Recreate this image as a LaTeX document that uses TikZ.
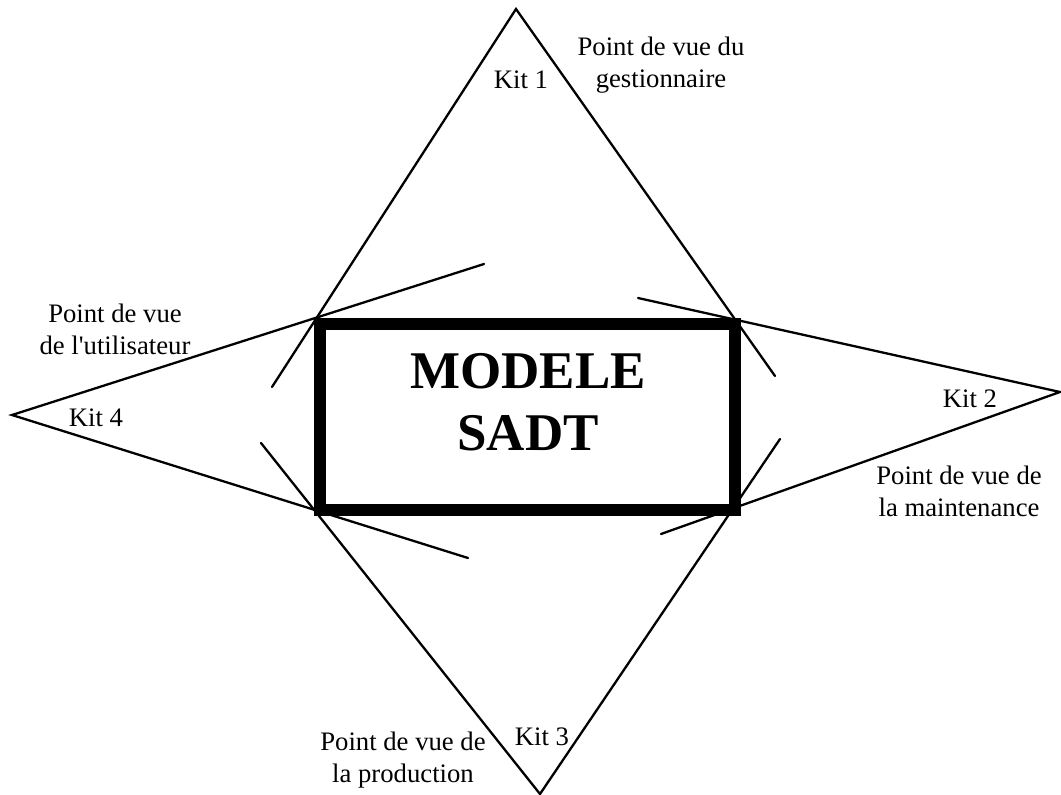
\documentclass[tikz,border=0pt]{standalone}
\usepackage{fontspec}
\setmainfont{Liberation Serif}
\newfontfamily\plainserif{Liberation Serif}
\begin{document}
\begin{tikzpicture}[x=1pt,y=-1pt,
  ln/.style={draw=black,line width=2.3pt,line cap=round,line join=miter},
  lbl/.style={font=\plainserif\fontsize{26.7}{32}\selectfont,align=center,inner sep=0pt,text=black}]
\useasboundingbox (0,0) rectangle (1061,795);
\fill[white] (0,0) rectangle (1061,795);
\coordinate (top) at (516,9);
\coordinate (right) at (1060,392);
\coordinate (bottom) at (540,794);
\coordinate (left) at (12,415);
\coordinate (a1) at (272,387);
\coordinate (a2) at (484,264);
\coordinate (b1) at (775,376);
\coordinate (b2) at (638,298);
\coordinate (c1) at (780,439);
\coordinate (c2) at (661,534);
\coordinate (d1) at (261,443);
\coordinate (d2) at (468,558);
\draw[ln] (a1) -- (top) -- (b1);
\draw[ln] (a2) -- (left) -- (d2);
\draw[ln] (b2) -- (right) -- (c2);
\draw[ln] (d1) -- (bottom) -- (c1);
\node[draw=black,line width=11.5pt,minimum width=415pt,minimum height=186pt,inner sep=0pt,outer sep=0pt,anchor=center] (box) at (527.5,417) {};
\node[font=\fontsize{53}{62}\selectfont\bfseries,align=center,inner sep=0pt] (title) at (528,402) {MODELE\\SADT};
\node[lbl] (k1) at (521,80) {Kit 1};
\node[lbl] (k2) at (970,399) {Kit 2};
\node[lbl] (k3) at (542,737) {Kit 3};
\node[lbl] (k4) at (96,418) {Kit 4};
\node[lbl] (v1) at (661,65.5) {Point de vue du\\gestionnaire};
\node[lbl] (v2) at (959,491.5) {Point de vue de\\la maintenance};
\node[lbl] (v3) at (403,760) {Point de vue de\\la production};
\node[lbl] (v4) at (115,329.5) {Point de vue\\de l'utilisateur};
\end{tikzpicture}
\end{document}
